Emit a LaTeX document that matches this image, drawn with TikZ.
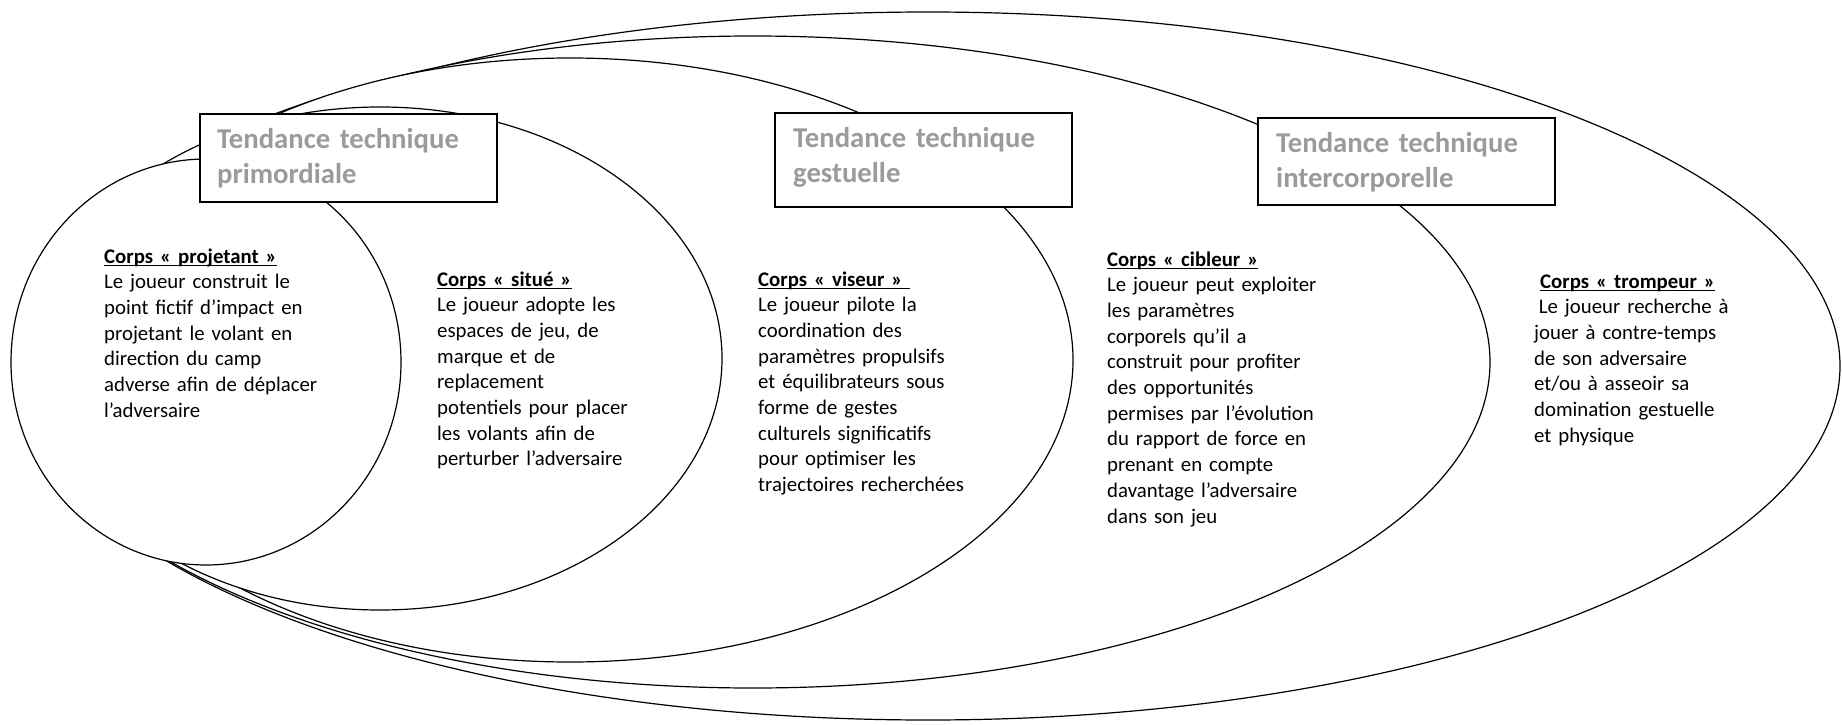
\documentclass[tikz,border=0pt]{standalone}
\usepackage{fontspec}
\setmainfont{Carlito}
\usetikzlibrary{shapes.geometric}
\definecolor{titlegray}{RGB}{155,155,155}
\newcommand{\headul}[1]{\setbox0\hbox{\bfseries #1}\rlap{\rule[-3pt]{\wd0}{1.4pt}}\box0}
\begin{document}
\begin{tikzpicture}[x=1pt,y=-1pt,
  ring/.style={ellipse, draw, fill=white, line width=1.2pt, inner sep=0pt},
  titlebox/.style={rectangle, draw, fill=white, line width=1.5pt, inner sep=0pt},
  titletext/.style={anchor=base west, inner sep=0pt, text width=285pt, align=left,
    font=\fontsize{28.7}{35}\selectfont\bfseries, text=titlegray},
  bodytext/.style={anchor=base west, inner sep=0pt, text width=300pt, align=left,
    font=\fontsize{20.8}{25.7}\selectfont}]
\useasboundingbox (0,0) rectangle (1842,725);
% nested ellipses, largest first (white filled, smaller ones on top)
\node[ring, minimum width=1824pt, minimum height=708pt] (e5) at (928,366) {};
\node[ring, minimum width=1474pt, minimum height=652pt] (e4) at (753,362) {};
\node[ring, minimum width=1006pt, minimum height=604pt] (e3) at (570,360) {};
\node[ring, minimum width=684pt, minimum height=503pt] (e2) at (380,358.5) {};
\node[ring, minimum width=390pt, minimum height=406pt] (e1) at (206,362) {};
% title boxes
\node[titlebox, minimum width=297pt, minimum height=88pt] (b1) at (348.5,158) {};
\node[titlebox, minimum width=297pt, minimum height=94pt] (b2) at (923.5,160) {};
\node[titlebox, minimum width=297pt, minimum height=87pt] (b3) at (1406.5,161.5) {};
\node[titletext] (t1) at (217,148) {Tendance technique\\primordiale};
\node[titletext] (t2) at (793,147) {Tendance technique\\gestuelle};
\node[titletext] (t3) at (1276,152) {Tendance technique\\intercorporelle};
% texts
\node[bodytext] (p1) at (104,263) {\headul{Corps « projetant »}\\
Le joueur construit le\\
point fictif d’impact en\\
projetant le volant en\\
direction du camp\\
adverse afin de déplacer\\
l’adversaire};
\node[bodytext] (p2) at (437,286) {\headul{Corps « situé »}\\
Le joueur adopte les\\
espaces de jeu, de\\
marque et de\\
replacement\\
potentiels pour placer\\
les volants afin de\\
perturber l’adversaire};
\node[bodytext] (p3) at (758,286) {\headul{Corps « viseur »\ }\\
Le joueur pilote la\\
coordination des\\
paramètres propulsifs\\
et équilibrateurs sous\\
forme de gestes\\
culturels significatifs\\
pour optimiser les\\
trajectoires recherchées};
\node[bodytext] (p4) at (1107,266) {\headul{Corps « cibleur »}\\
Le joueur peut exploiter\\
les paramètres\\
corporels qu’il a\\
construit pour profiter\\
des opportunités\\
permises par l’évolution\\
du rapport de force en\\
prenant en compte\\
davantage l’adversaire\\
dans son jeu};
\node[bodytext] (p5) at (1534,288) {\hspace*{6pt}\headul{Corps « trompeur »}\\
\hspace*{4.7pt}Le joueur recherche à\\
jouer à contre-temps\\
de son adversaire\\
et/ou à asseoir sa\\
domination gestuelle\\
et physique};
\end{tikzpicture}
\end{document}
